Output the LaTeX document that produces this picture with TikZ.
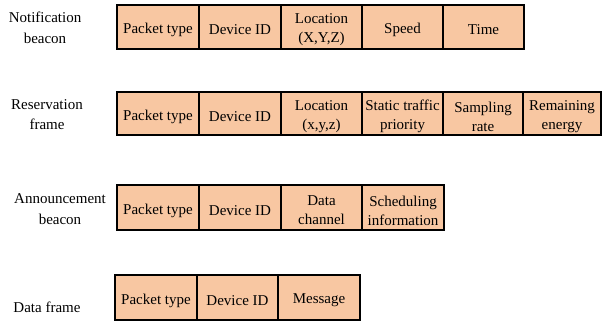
\documentclass[tikz,border=0pt]{standalone}
\usepackage{fontspec}
\setmainfont{Liberation Serif}
\definecolor{cellfill}{HTML}{F8C7A2}
\begin{document}
\begin{tikzpicture}[x=1pt,y=-1pt,
  cell/.style={draw=black, line width=1.1pt, fill=cellfill, inner sep=0pt},
  celltext/.style={align=center, inner sep=0pt, font=\fontsize{15}{19}\selectfont},
  rowlabel/.style={align=center, inner sep=0pt, font=\fontsize{15}{20.5}\selectfont}]
\useasboundingbox (0,0) rectangle (602,322);
% Row 1: Notification beacon
\node[rowlabel] (l1) at (45,28) {Notification\\beacon};
\node[cell, minimum width=82pt, minimum height=44pt] (a1) at (158,27) {};
\node[cell, minimum width=82pt, minimum height=44pt] (a2) at (240,27) {};
\node[cell, minimum width=81pt, minimum height=44pt] (a3) at (321.5,27) {};
\node[cell, minimum width=81pt, minimum height=44pt] (a4) at (402.5,27) {};
\node[cell, minimum width=81pt, minimum height=44pt] (a5) at (483.5,27) {};
\node[celltext] (ta1) at ([yshift=-3pt]a1.center) {Packet type};
\node[celltext] (ta2) at ([yshift=-3pt]a2.center) {Device ID};
\node[celltext] (ta3) at ([yshift=-3pt]a3.center) {Location\\(X,Y,Z)};
\node[celltext] (ta4) at ([yshift=-3pt]a4.center) {Speed};
\node[celltext] (ta5) at ([yshift=-3pt]a5.center) {Time};
% Row 2: Reservation frame
\node[rowlabel] (l2) at (47,114.5) {Reservation\\frame};
\node[cell, minimum width=82pt, minimum height=43pt] (b1) at (158,113.5) {};
\node[cell, minimum width=82pt, minimum height=43pt] (b2) at (240,113.5) {};
\node[cell, minimum width=81pt, minimum height=43pt] (b3) at (321.5,113.5) {};
\node[cell, minimum width=81pt, minimum height=43pt] (b4) at (402.5,113.5) {};
\node[cell, minimum width=80pt, minimum height=43pt] (b5) at (483,113.5) {};
\node[cell, minimum width=78pt, minimum height=43pt] (b6) at (562,113.5) {};
\node[celltext] (tb1) at ([yshift=-3pt]b1.center) {Packet type};
\node[celltext] (tb2) at ([yshift=-3pt]b2.center) {Device ID};
\node[celltext] (tb3) at ([yshift=-3pt]b3.center) {Location\\(x,y,z)};
\node[celltext] (tb4) at ([yshift=-3pt]b4.center) {Static traffic\\priority};
\node[celltext] (tb5) at ([yshift=-3pt]b5.center) {Sampling\\rate};
\node[celltext] (tb6) at ([yshift=-3pt]b6.center) {Remaining\\energy};
% Row 3: Announcement beacon
\node[rowlabel] (l3) at (60,209) {Announcement\\beacon};
\node[cell, minimum width=82pt, minimum height=45pt] (c1) at (158,207.5) {};
\node[cell, minimum width=82pt, minimum height=45pt] (c2) at (240,207.5) {};
\node[cell, minimum width=81pt, minimum height=45pt] (c3) at (321.5,207.5) {};
\node[cell, minimum width=82pt, minimum height=45pt] (c4) at (403,207.5) {};
\node[celltext] (tc1) at ([yshift=-3pt]c1.center) {Packet type};
\node[celltext] (tc2) at ([yshift=-3pt]c2.center) {Device ID};
\node[celltext] (tc3) at ([yshift=-3pt]c3.center) {Data\\channel};
\node[celltext] (tc4) at ([yshift=-3pt]c4.center) {Scheduling\\information};
% Row 4: Data frame
\node[rowlabel] (l4) at (47,307) {Data frame};
\node[cell, minimum width=82pt, minimum height=45pt] (d1) at (156,297.5) {};
\node[cell, minimum width=81pt, minimum height=45pt] (d2) at (237.5,297.5) {};
\node[cell, minimum width=82pt, minimum height=45pt] (d3) at (319,297.5) {};
\node[celltext] (td1) at ([yshift=-3pt]d1.center) {Packet type};
\node[celltext] (td2) at ([yshift=-3pt]d2.center) {Device ID};
\node[celltext] (td3) at ([yshift=-3pt]d3.center) {Message};
\end{tikzpicture}
\end{document}
